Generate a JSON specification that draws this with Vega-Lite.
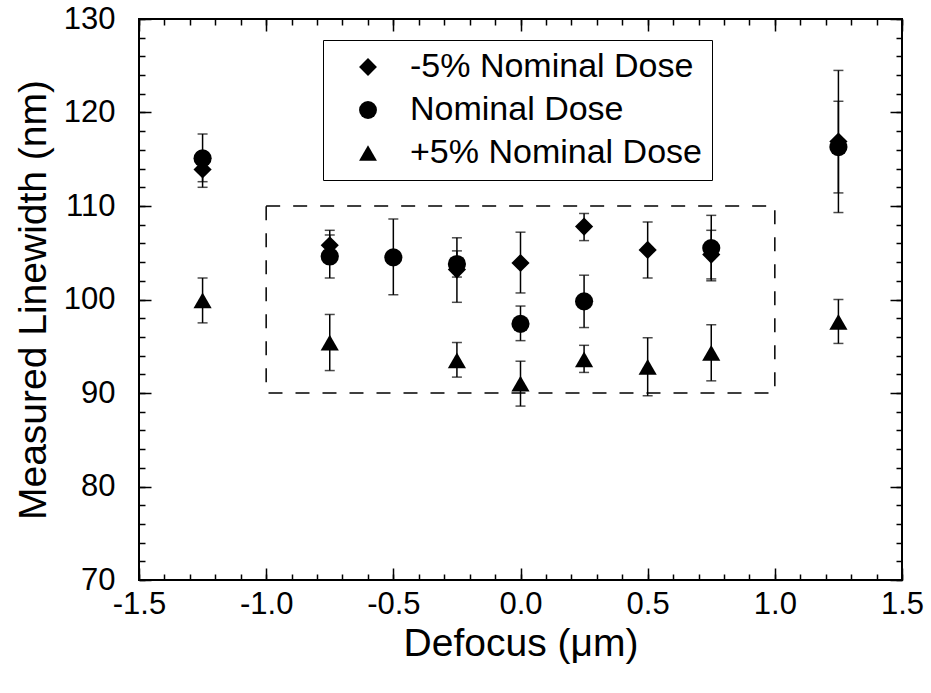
{
  "$schema": "https://vega.github.io/schema/vega-lite/v6.json",
  "width": 763,
  "height": 561,
  "autosize": {"type": "none"},
  "padding": {"left": 139, "top": 19, "right": 29, "bottom": 113},
  "background": "white",
  "config": {
    "view": {"stroke": "black", "strokeWidth": 2},
    "font": "Liberation Sans",
    "axis": {
      "domain": false,
      "grid": false,
      "tickColor": "black",
      "tickWidth": 1.5,
      "labelColor": "black",
      "labelFontSize": 31,
      "labelFont": "Liberation Sans",
      "titleFont": "Liberation Sans",
      "titleFontSize": 39,
      "titleFontWeight": "normal",
      "titleColor": "black",
      "labelOverlap": false,
      "labelFlush": false
    }
  },
  "datasets": {
    "rows": [
      {"defocus": -1.25, "series": "-5% Nominal Dose", "lw": 113.9, "lo": 112.0, "hi": 115.8},
      {"defocus": -0.75, "series": "-5% Nominal Dose", "lw": 105.8, "lo": 104.2, "hi": 107.4},
      {"defocus": -0.25, "series": "-5% Nominal Dose", "lw": 103.2, "lo": 99.7, "hi": 106.6},
      {"defocus": 0.0, "series": "-5% Nominal Dose", "lw": 103.9, "lo": 100.7, "hi": 107.2},
      {"defocus": 0.25, "series": "-5% Nominal Dose", "lw": 107.8, "lo": 106.3, "hi": 109.2},
      {"defocus": 0.5, "series": "-5% Nominal Dose", "lw": 105.3, "lo": 102.3, "hi": 108.3},
      {"defocus": 0.75, "series": "-5% Nominal Dose", "lw": 104.8, "lo": 102.2, "hi": 107.4},
      {"defocus": 1.25, "series": "-5% Nominal Dose", "lw": 116.9, "lo": 109.3, "hi": 124.5},
      {"defocus": -1.25, "series": "Nominal Dose", "lw": 115.1, "lo": 112.6, "hi": 117.7},
      {"defocus": -0.75, "series": "Nominal Dose", "lw": 104.6, "lo": 102.3, "hi": 106.9},
      {"defocus": -0.5, "series": "Nominal Dose", "lw": 104.5, "lo": 100.5, "hi": 108.6},
      {"defocus": -0.25, "series": "Nominal Dose", "lw": 103.8, "lo": 102.4, "hi": 105.2},
      {"defocus": 0.0, "series": "Nominal Dose", "lw": 97.4, "lo": 95.6, "hi": 99.3},
      {"defocus": 0.25, "series": "Nominal Dose", "lw": 99.8, "lo": 97.0, "hi": 102.6},
      {"defocus": 0.75, "series": "Nominal Dose", "lw": 105.5, "lo": 102.0, "hi": 109.0},
      {"defocus": 1.25, "series": "Nominal Dose", "lw": 116.3, "lo": 111.4, "hi": 121.2},
      {"defocus": -1.25, "series": "+5% Nominal Dose", "lw": 99.9, "lo": 97.5, "hi": 102.3},
      {"defocus": -0.75, "series": "+5% Nominal Dose", "lw": 95.4, "lo": 92.4, "hi": 98.4},
      {"defocus": -0.25, "series": "+5% Nominal Dose", "lw": 93.5, "lo": 91.7, "hi": 95.4},
      {"defocus": 0.0, "series": "+5% Nominal Dose", "lw": 91.0, "lo": 88.6, "hi": 93.4},
      {"defocus": 0.25, "series": "+5% Nominal Dose", "lw": 93.6, "lo": 92.2, "hi": 95.1},
      {"defocus": 0.5, "series": "+5% Nominal Dose", "lw": 92.8, "lo": 89.7, "hi": 95.9},
      {"defocus": 0.75, "series": "+5% Nominal Dose", "lw": 94.3, "lo": 91.3, "hi": 97.3},
      {"defocus": 1.25, "series": "+5% Nominal Dose", "lw": 97.6, "lo": 95.3, "hi": 100.0}
    ]
  },
  "layer": [
    {
      "data": {"values": [{"x1": -1.0, "x2": 1.0, "y1": 90, "y2": 110}]},
      "mark": {"type": "rect", "fill": "white", "fillOpacity": 0, "stroke": "black", "strokeWidth": 1.5, "strokeDash": [14, 13]},
      "encoding": {
        "x": {
          "field": "x1", "type": "quantitative",
          "scale": {"domain": [-1.5, 1.5], "nice": false, "zero": false},
          "axis": {"orient": "top", "title": null, "labels": false, "values": [-1.5, -1.0, -0.5, 0.0, 0.5, 1.0, 1.5], "tickSize": -12}
        },
        "x2": {"field": "x2"},
        "y": {
          "field": "y1", "type": "quantitative",
          "scale": {"domain": [70, 130], "nice": false, "zero": false},
          "axis": {"orient": "right", "title": null, "labels": false, "values": [70, 80, 90, 100, 110, 120, 130], "tickSize": -12}
        },
        "y2": {"field": "y2"}
      }
    },
    {
      "data": {"name": "rows"},
      "mark": {"type": "rule", "color": "black", "strokeWidth": 1.5},
      "encoding": {
        "x": {
          "field": "defocus", "type": "quantitative",
          "scale": {"domain": [-1.5, 1.5], "nice": false, "zero": false},
          "axis": {
            "orient": "bottom", "title": "Defocus (μm)",
            "values": [-1.5, -1.0, -0.5, 0.0, 0.5, 1.0, 1.5],
            "labelExpr": "datum.value < 0 ? '-' + format(abs(datum.value), '.1f') : format(datum.value, '.1f')",
            "tickSize": -12,
            "labelPadding": 21,
            "titlePadding": 5
          }
        },
        "y": {
          "field": "lo", "type": "quantitative",
          "scale": {"domain": [70, 130], "nice": false, "zero": false},
          "axis": {
            "orient": "left", "title": "Measured Linewidth (nm)",
            "values": [70, 80, 90, 100, 110, 120, 130],
            "tickSize": -12,
            "labelPadding": 36,
            "titlePadding": 10
          }
        },
        "y2": {"field": "hi"}
      }
    },
    {
      "data": {"name": "rows"},
      "mark": {"type": "tick", "orient": "horizontal", "color": "black", "size": 10, "thickness": 1.5},
      "encoding": {
        "x": {
          "field": "defocus", "type": "quantitative",
          "scale": {"domain": [-1.5, 1.5], "nice": false, "zero": false},
          "axis": {"orient": "bottom", "title": null, "labels": false, "tickSize": -6,
            "values": [-1.5,-1.4,-1.3,-1.2,-1.1,-1.0,-0.9,-0.8,-0.7,-0.6,-0.5,-0.4,-0.3,-0.2,-0.1,0.0,0.1,0.2,0.3,0.4,0.5,0.6,0.7,0.8,0.9,1.0,1.1,1.2,1.3,1.4,1.5]}
        },
        "y": {
          "field": "lo", "type": "quantitative",
          "scale": {"domain": [70, 130], "nice": false, "zero": false},
          "axis": {"orient": "left", "title": null, "labels": false, "tickSize": -6,
            "values": [70,72,74,76,78,80,82,84,86,88,90,92,94,96,98,100,102,104,106,108,110,112,114,116,118,120,122,124,126,128,130]}
        }
      }
    },
    {
      "data": {"name": "rows"},
      "mark": {"type": "tick", "orient": "horizontal", "color": "black", "size": 10, "thickness": 1.5},
      "encoding": {
        "x": {
          "field": "defocus", "type": "quantitative",
          "scale": {"domain": [-1.5, 1.5], "nice": false, "zero": false},
          "axis": {"orient": "top", "title": null, "labels": false, "tickSize": -6,
            "values": [-1.5,-1.4,-1.3,-1.2,-1.1,-1.0,-0.9,-0.8,-0.7,-0.6,-0.5,-0.4,-0.3,-0.2,-0.1,0.0,0.1,0.2,0.3,0.4,0.5,0.6,0.7,0.8,0.9,1.0,1.1,1.2,1.3,1.4,1.5]}
        },
        "y": {
          "field": "hi", "type": "quantitative",
          "scale": {"domain": [70, 130], "nice": false, "zero": false},
          "axis": {"orient": "right", "title": null, "labels": false, "tickSize": -6,
            "values": [70,72,74,76,78,80,82,84,86,88,90,92,94,96,98,100,102,104,106,108,110,112,114,116,118,120,122,124,126,128,130]}
        }
      }
    },
    {
      "data": {"name": "rows"},
      "mark": {"type": "point", "filled": true, "color": "black", "opacity": 1, "size": 330},
      "encoding": {
        "x": {"field": "defocus", "type": "quantitative", "scale": {"domain": [-1.5, 1.5], "nice": false, "zero": false}, "axis": null},
        "y": {"field": "lw", "type": "quantitative", "scale": {"domain": [70, 130], "nice": false, "zero": false}, "axis": null},
        "shape": {
          "field": "series", "type": "nominal",
          "scale": {"domain": ["-5% Nominal Dose", "Nominal Dose", "+5% Nominal Dose"], "range": ["diamond", "circle", "triangle-up"]},
          "legend": {
            "title": null,
            "orient": "none",
            "legendX": 184,
            "legendY": 21,
            "fillColor": "white",
            "strokeColor": "black",
            "padding": 10,
            "labelFont": "Liberation Sans",
            "labelFontSize": 34,
            "labelColor": "black",
            "labelLimit": 400,
            "symbolSize": 320,
            "symbolFillColor": "black",
            "symbolStrokeColor": "black",
            "symbolOffset": 18,
            "labelOffset": 25,
            "rowPadding": 9
          }
        }
      }
    }
  ],
  "resolve": {"axis": {"x": "independent", "y": "independent"}}
}
